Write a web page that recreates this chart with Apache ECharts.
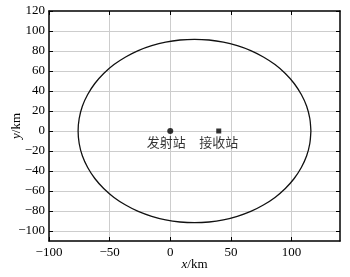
<!DOCTYPE html>
<html><head><meta charset="utf-8">
<script src="https://cdn.jsdelivr.net/npm/echarts@6/dist/echarts.min.js"></script>
<style>html,body{margin:0;padding:0;background:#fff}#c{width:350px;height:277px}</style>
</head><body><div id="c"></div>
<script>
const xTicks = [-100, -50, 0, 50, 100];
const yTicks = [-100, -80, -60, -40, -20, 0, 20, 40, 60, 80, 100, 120];
const ovalX = [116,115.1,112.5,108.1,102.2,94.9,86.4,76.8,66.4,55.3,43.8,32.0,20,8.0,-3.8,-15.3,-26.4,-36.8,-46.4,-54.9,-62.2,-68.1,-72.5,-75.1,-76,
  -75.1,-72.5,-68.1,-62.2,-54.9,-46.4,-36.8,-26.4,-15.3,-3.8,8.0,20,32.0,43.8,55.3,66.4,76.8,86.4,94.9,102.2,108.1,112.5,115.1,116];
const ovalY = [0,12.5,24.8,36.5,47.5,57.5,66.4,74.0,80.4,85.3,88.9,91.0,91.7,91.0,88.9,85.3,80.4,74.0,66.4,57.5,47.5,36.5,24.8,12.5,0,
  -12.5,-24.8,-36.5,-47.5,-57.5,-66.4,-74.0,-80.4,-85.3,-88.9,-91.0,-91.7,-91.0,-88.9,-85.3,-80.4,-74.0,-66.4,-57.5,-47.5,-36.5,-24.8,-12.5,0];
const stationNames = ['发射站', '接收站'];
const stationX = [0, 40];
const stationY = [0, 0];

const serif = '"Liberation Serif", "DejaVu Serif", serif';
const cjk = '"Noto Sans CJK SC", sans-serif';
const minus = v => String(v).replace('-', '\u2212');
const chart = echarts.init(document.getElementById('c'));
const axisLineStyle = { color: '#000', width: 1.5 };
const gridColor = '#cdcdcd';
const nameStyle = { color: '#000', fontFamily: serif, fontSize: 13, rich: { i: { fontStyle: 'italic', fontFamily: serif, fontSize: 13 } } };
chart.setOption({
  animation: false,
  grid: { left: 49, right: 10, top: 11, bottom: 36, containLabel: false, outerBoundsMode: 'none' },
  xAxis: [{
    type: 'value', min: -100, max: 140, position: 'bottom',
    axisLine: { show: true, onZero: false, lineStyle: axisLineStyle },
    axisTick: { show: true, inside: true, length: 4, customValues: xTicks, lineStyle: { color: '#000' } },
    axisLabel: { color: '#000', fontFamily: serif, fontSize: 13, margin: 5, customValues: xTicks, formatter: minus },
    splitLine: { show: false },
    name: '{i|x}/km', nameLocation: 'middle', nameGap: 17, nameMoveOverlap: false,
    nameTextStyle: nameStyle
  }, {
    type: 'value', min: -100, max: 140, position: 'top',
    axisLine: { show: true, onZero: false, lineStyle: axisLineStyle },
    axisTick: { show: true, inside: true, length: 4, customValues: xTicks, lineStyle: { color: '#000' } },
    axisLabel: { show: false }, splitLine: { show: false }
  }],
  yAxis: [{
    type: 'value', min: -110, max: 120, position: 'left',
    axisLine: { show: true, onZero: false, lineStyle: axisLineStyle },
    axisTick: { show: true, inside: true, length: 4, customValues: yTicks, lineStyle: { color: '#000' } },
    axisLabel: { color: '#000', fontFamily: serif, fontSize: 13, margin: 4, customValues: yTicks, formatter: minus },
    splitLine: { show: false },
    name: '{i|y}/km', nameLocation: 'middle', nameGap: 26, nameRotate: 90, nameMoveOverlap: false,
    nameTextStyle: nameStyle
  }, {
    type: 'value', min: -110, max: 120, position: 'right',
    axisLine: { show: true, onZero: false, lineStyle: axisLineStyle },
    axisTick: { show: true, inside: true, length: 4, customValues: yTicks, lineStyle: { color: '#000' } },
    axisLabel: { show: false }, splitLine: { show: false }
  }],
  series: [{
    type: 'line', data: [], silent: true, z: 0, zlevel: 0,
    markLine: {
      silent: true, symbol: 'none', label: { show: false }, animation: false, z: 0,
      lineStyle: { color: gridColor, width: 1, type: 'solid' },
      emphasis: { disabled: true },
      data: yTicks.filter(v => v > -110 && v < 120).map(v => ({ yAxis: v }))
        .concat(xTicks.filter(v => v > -100).map(v => ({ xAxis: v })))
    }
  }, {
    type: 'line', xAxisIndex: 0, yAxisIndex: 0, smooth: 0.3, showSymbol: false, z: 5,
    data: ovalX.map((x, i) => [x, ovalY[i]]),
    lineStyle: { color: '#111', width: 1.3 }
  }, {
    type: 'scatter', symbol: 'circle', symbolSize: 6, z: 6,
    data: [[stationX[0], stationY[0], stationNames[0]]],
    itemStyle: { color: '#000' },
    label: { show: true, position: 'bottom', distance: 2, offset: [-4, 0], formatter: p => p.data[2], color: '#000', fontFamily: cjk, fontSize: 13 }
  }, {
    type: 'scatter', symbol: 'rect', symbolSize: 5, z: 6,
    data: [[stationX[1], stationY[1], stationNames[1]]],
    itemStyle: { color: '#000' },
    label: { show: true, position: 'bottom', distance: 2.5, formatter: p => p.data[2], color: '#000', fontFamily: cjk, fontSize: 13 }
  }]
});
</script></body></html>
